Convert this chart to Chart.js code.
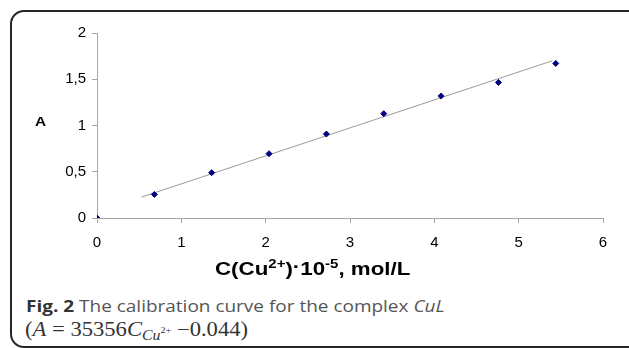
<!DOCTYPE html>
<html>
<head>
<meta charset="utf-8">
<script src="https://cdn.jsdelivr.net/npm/chart.js@4/dist/chart.umd.min.js"></script>
<style>
  html, body { margin: 0; padding: 0; background: #fff; }
  body { width: 629px; height: 348px; position: relative; overflow: hidden; }
  .frame {
    position: absolute; left: 10px; top: 10px; width: 640px; height: 334px;
    border: 2px solid #262626; border-radius: 14px;
  }
  #wrap { position: absolute; left: 0; top: 0; width: 629px; height: 260px; }
  .ytitle {
    position: absolute; left: 35px; top: 114px; line-height: 1;
    font: bold 13px "Liberation Sans", Arial, sans-serif; color: #000;
    transform: scaleX(1.18); transform-origin: left top;
  }
  .xtitle {
    position: absolute; left: 215px; top: 257.5px; line-height: 1;
    font: bold 18.6px "Liberation Sans", Arial, sans-serif; color: #000; white-space: nowrap;
    transform: scaleX(1.2); transform-origin: left top;
  }
  .xtitle sup { font-size: 12.5px; vertical-align: baseline; position: relative; top: -0.55em; }
  .dot { position: relative; top: -2px; }
  .cap1 {
    position: absolute; left: 26px; top: 293.5px; line-height: 1;
    font: 16.5px "Open Sans", sans-serif; color: #555; white-space: nowrap;
    transform: scaleX(1.15); transform-origin: left top;
  }
  .cap1 b { color: #333; }
  .cap2 {
    position: absolute; left: 25px; top: 318.3px; line-height: 1;
    font: 20px "Liberation Serif", serif; color: #333; white-space: nowrap;
    transform: scaleX(1.13); transform-origin: left top;
  }
  .cap2 .op { margin: 0 5px; }
  .cap2 sub { font-size: 14px; vertical-align: baseline; position: relative; top: 4px; }
  .cap2 sub sup { font-size: 9px; vertical-align: baseline; position: relative; top: -7px; }
</style>
</head>
<body>
<div class="frame"></div>
<div id="wrap"><canvas id="chart"></canvas></div>
<div class="ytitle">A</div>
<div class="xtitle">C(Cu<sup>2+</sup>)<span class="dot">·</span>10<sup>-5</sup>, mol/L</div>
<div class="cap1"><b>Fig. 2</b> The calibration curve for the complex <i>CuL</i></div>
<div class="cap2">(<i>A</i><span class="op">=</span>35356<i>C</i><sub><i>Cu</i><sup>2+</sup></sub> −0.044)</div>

<script>
// measured points, C(Cu2+)·10^-5 mol/L vs absorbance
const concX = [0, 0.68, 1.36, 2.04, 2.72, 3.40, 4.08, 4.76, 5.44];
const absorb = [0, 0.255, 0.49, 0.695, 0.908, 1.128, 1.319, 1.466, 1.671];

// linear trendline ends as drawn
const trendX = [0.53, 5.40];
const trendY = [0.227, 1.70];

const xTicks = [0, 1, 2, 3, 4, 5, 6];
const yTicks = [0, 0.5, 1, 1.5, 2];

const axisGray = '#a6a6a6';

const ctx = document.getElementById('chart').getContext('2d');
new Chart(ctx, {
    type: 'scatter',
    data: {
        datasets: [
            {
                label: 'trend',
                data: trendX.map((x, i) => ({ x: x, y: trendY[i] })),
                showLine: true,
                borderColor: '#9a9a9a',
                borderWidth: 1,
                pointRadius: 0,
                order: 2
            },
            {
                label: 'A',
                data: concX.map((x, i) => ({ x: x, y: absorb[i] })),
                pointStyle: 'rectRot',
                pointRadius: 3,
                backgroundColor: '#000080',
                borderColor: '#000080',
                borderWidth: 1,
                order: 1
            }
        ]
    },
    options: {
        responsive: true,
        maintainAspectRatio: false,
        animation: false,
        events: [],
        layout: { padding: { left: 0, right: 26, top: 33, bottom: 0 } },
        plugins: { legend: { display: false }, tooltip: { enabled: false } },
        scales: {
            x: {
                type: 'linear',
                min: 0, max: 6,
                afterBuildTicks: s => { s.ticks = xTicks.map(v => ({ value: v })); },
                afterFit: s => { s.height = 42; },
                border: { color: axisGray, width: 1 },
                grid: { drawOnChartArea: false, drawTicks: true, tickLength: 5, color: axisGray },
                ticks: {
                    color: '#000', padding: 11,
                    font: { family: '"Liberation Sans", Arial', size: 15 }
                }
            },
            y: {
                type: 'linear',
                min: 0, max: 2,
                afterBuildTicks: s => { s.ticks = yTicks.map(v => ({ value: v })); },
                afterFit: s => { s.width = 97; },
                border: { color: axisGray, width: 1 },
                grid: { drawOnChartArea: false, drawTicks: true, tickLength: 5, color: axisGray },
                ticks: {
                    color: '#000', padding: 6,
                    font: { family: '"Liberation Sans", Arial', size: 15 },
                    callback: v => String(v).replace('.', ',')
                }
            }
        }
    }
});
</script>
</body>
</html>
